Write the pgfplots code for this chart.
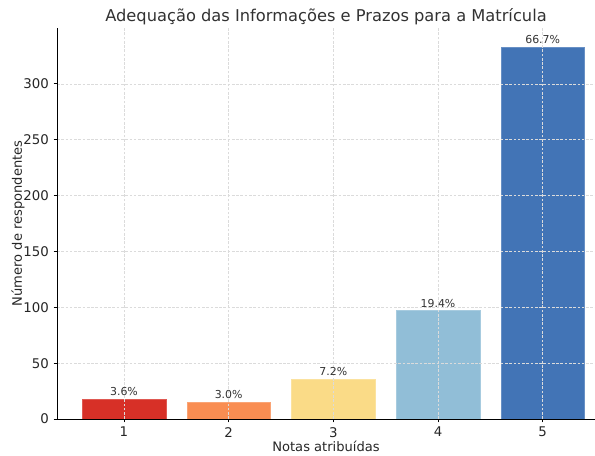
\documentclass[border=0pt]{standalone}
\usepackage{pgfplots}
\pgfplotsset{compat=1.18}
\usepackage{fontspec}
\setmainfont{DejaVu Sans}
\definecolor{c1}{RGB}{215,48,39}
\definecolor{c2}{RGB}{249,141,82}
\definecolor{c3}{RGB}{250,219,135}
\definecolor{c4}{RGB}{145,190,215}
\definecolor{c5}{RGB}{66,116,182}
\definecolor{txt}{RGB}{50,50,50}
\begin{document}
\begin{tikzpicture}
\useasboundingbox (-42.75pt,-27pt) rectangle (403.5pt,314.25pt);
\begin{axis}[
  at={(0,0)}, anchor=south west,
  scale only axis,
  width=403.5pt, height=293.25pt,
  xmin=0.36, xmax=5.5, ymin=0, ymax=350,
  ybar, bar width=0.8, bar shift=0pt,
  xtick={1,2,3,4,5},
  ytick={0,50,100,150,200,250,300},
  axis x line*=bottom, axis y line*=left,
  axis line style={black, line width=0.6pt, -},
  tick align=outside, major tick length=2.6pt,
  tick style={black, line width=0.6pt},
  grid=major,
  grid style={dash pattern=on 2pt off 1.2pt, gray!28, line width=0.4pt},
  axis on top,
  /pgf/number format/assume math mode=true,
  ticklabel style={font=\fontsize{10}{12}\selectfont, text=black!85},
  xlabel={Notas atribuídas},
  ylabel={Número de respondentes},
  label style={font=\fontsize{9.8}{12}\selectfont, text=black!85},
  xlabel style={at={(axis description cs:0.5,-0.069)}, anchor=center},
  ylabel style={at={(axis description cs:-0.0725,0.5)}, anchor=center},
  title={Adequação das Informações e Prazos para a Matrícula},
  title style={font=\fontsize{12.2}{14}\selectfont, text=txt, at={(axis description cs:0.5,1.0281)}, anchor=center, yshift=-6pt},
  nodes near coords style={font=\fontsize{8.2}{10}\selectfont, text=txt, anchor=south, yshift=-1pt},
]
\addplot[fill=c1, draw=c1!80!white, nodes near coords={3.6\%}] coordinates {(1,18)};
\addplot[fill=c2, draw=c2!80!white, nodes near coords={3.0\%}] coordinates {(2,15)};
\addplot[fill=c3, draw=c3!80!white, nodes near coords={7.2\%}] coordinates {(3,36)};
\addplot[fill=c4, draw=c4!80!white, nodes near coords={19.4\%}] coordinates {(4,97)};
\addplot[fill=c5, draw=c5!80!white, nodes near coords={66.7\%}] coordinates {(5,333)};
\end{axis}
\end{tikzpicture}
\end{document}
